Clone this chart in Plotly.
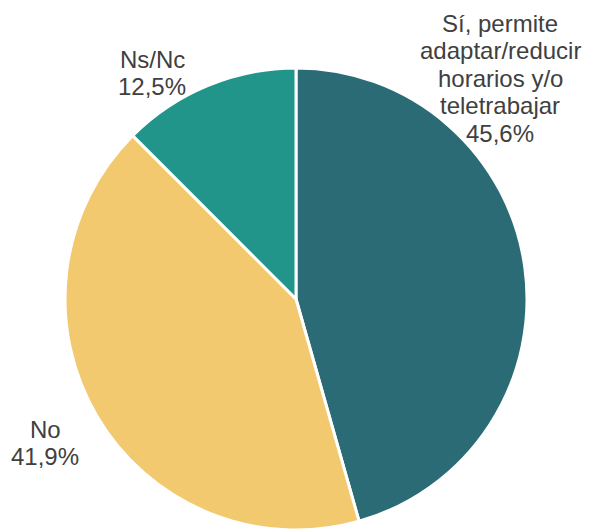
import plotly.graph_objects as go

labels = ["Sí, permite adaptar/reducir horarios y/o teletrabajar", "No", "Ns/Nc"]
label_lines = [["Sí, permite", "adaptar/reducir", "horarios y/o", "teletrabajar"], ["No"], ["Ns/Nc"]]
values = [45.6, 41.9, 12.5]
value_text = ["45,6%", "41,9%", "12,5%"]
colors = ["#2a6b75", "#f2c96e", "#21958a"]

# the page body has an 8px margin, so the figure is drawn 8px smaller and offset
OFF = 8
W, H = 590 - OFF, 531 - OFF
# label block placement (pixel centre x, first-line baseline y) in window pixels
label_pos = [(500, 32), (45, 438), (152, 68)]
LINE = 27.5
FONT = dict(family="Liberation Sans, Arial", size=24, color="#404040")

pie_left, pie_right, pie_top, pie_bottom = 65, 527, 68, 530

fig = go.Figure(go.Pie(
    labels=labels,
    values=values,
    sort=False,
    direction="clockwise",
    rotation=0,
    marker=dict(colors=colors, line=dict(color="white", width=3)),
    textinfo="none",
    hoverinfo="label+percent",
    showlegend=False,
    domain=dict(x=[(pie_left - OFF) / W, (pie_right - OFF) / W],
                y=[1 - (pie_bottom - OFF) / H, 1 - (pie_top - OFF) / H]),
))

annotations = []
for lines, pct, (cx, by) in zip(label_lines, value_text, label_pos):
    for i, t in enumerate(lines + [pct]):
        yb = by + i * LINE
        annotations.append(dict(
            text=t, x=(cx - OFF) / W, y=1 - (yb - 8.6 - OFF) / H,
            xref="paper", yref="paper", xanchor="center", yanchor="middle",
            showarrow=False, font=FONT,
        ))

fig.update_layout(
    width=W, height=H,
    margin=dict(l=0, r=0, t=0, b=0),
    paper_bgcolor="white",
    plot_bgcolor="white",
    annotations=annotations,
)
fig.write_html("out.html")
